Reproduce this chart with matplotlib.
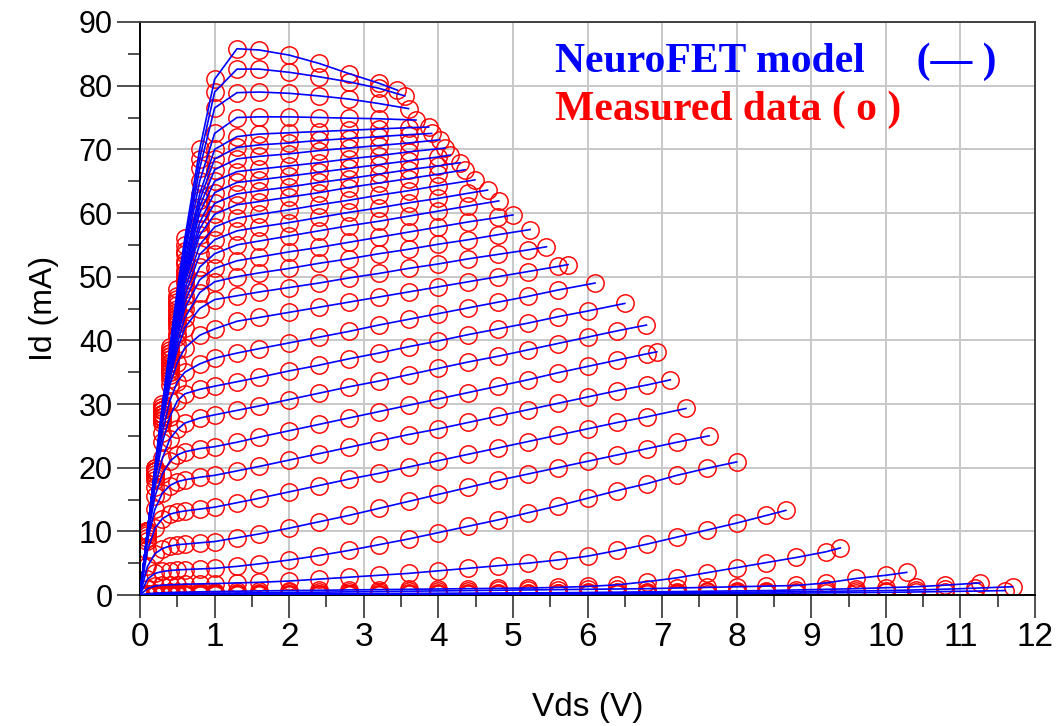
import matplotlib
matplotlib.use("Agg")
import matplotlib.pyplot as plt
from matplotlib.ticker import MultipleLocator

# ---- measurement Vds grid (V) ----
VDS_LIN = [0.0, 0.1, 0.2, 0.3, 0.4, 0.5, 0.6, 0.8, 1.0]
VDS_SAT = [1.3, 1.6, 2.0, 2.4, 2.8, 3.2, 3.6, 4.0, 4.4, 4.8, 5.2, 5.6, 6.0,
           6.4, 6.8, 7.2, 7.6, 8.0, 8.4, 8.8, 9.2, 9.6, 10.0, 10.4, 10.8, 11.2]

# ---- last Vds of each Vgs sweep (V) ----
VDS_END = [3.45, 3.55, 3.6, 3.7, 3.87, 3.91, 4.02, 4.09, 4.16, 4.29, 4.36,
           4.49, 4.66, 4.81, 5.0, 5.23, 5.45, 5.74, 6.1, 6.5, 6.79, 6.93,
           7.11, 7.32, 7.63, 8.0, 8.66, 9.39, 10.28, 11.26, 11.7, 11.6]

# ---- Id (mA) of each sweep, top curve first ----
ID_C01 = [0, 10, 20, 30, 39, 48, 56, 70, 81, 85.8, 85.6, 84.8, 83.5, 81.9, 80.4, 79.3]
ID_C02 = [0, 10, 20, 29.5, 38.5, 47, 55, 68.5, 79, 82.6, 82.6, 82.1, 81.4, 80.6, 79.6, 78.4]
ID_C03 = [0, 10, 19.5, 29, 38, 46.5, 54, 67, 76.5, 78.9, 79.0, 78.8, 78.4, 77.9, 77.2, 76.4]
ID_C04 = [0, 10, 19.5, 29, 38, 46, 53.5, 65, 72.5, 75.0, 75.1, 75.1, 75.0, 74.9, 74.8, 74.6]
ID_C05 = [0, 10, 19.5, 29, 37.5, 45.5, 52.5, 63, 70, 72.0, 72.4, 72.6, 72.8, 73.0, 73.2, 73.4, 73.5]
ID_C06 = [0, 10, 19.5, 29, 37.5, 45, 52, 62, 68.5, 70.3, 70.7, 71.0, 71.4, 71.7, 72.0, 72.3, 72.5]
ID_C07 = [0, 10, 19.5, 28.5, 37, 44.5, 51, 61, 66.8, 68.5, 68.9, 69.3, 69.8, 70.2, 70.6, 71.0, 71.5]
ID_C08 = [0, 10, 19.5, 28.5, 37, 44, 50.5, 60, 65, 66.5, 66.9, 67.4, 67.9, 68.5, 69.0, 69.6, 70.2]
ID_C09 = [0, 10, 19.5, 28.5, 36.5, 43.5, 50, 58.5, 63.2, 64.8, 65.2, 65.8, 66.4, 67.0, 67.6, 68.2, 68.8, 69.1]
ID_C10 = [0, 10, 19.5, 28.5, 36.5, 43.5, 49.5, 57.5, 61.5, 63.0, 63.5, 64.1, 64.8, 65.4, 66.1, 66.8, 67.4, 67.9]
ID_C11 = [0, 10, 19.5, 28.5, 36, 43, 49, 56.5, 59.8, 61.3, 61.8, 62.5, 63.2, 64.0, 64.7, 65.4, 66.1, 66.8]
ID_C12 = [0, 10, 19.5, 28, 35.5, 42.5, 48, 55, 57.8, 59.2, 59.8, 60.5, 61.3, 62.0, 62.8, 63.5, 64.3, 65.2]
ID_C13 = [0, 10, 19.5, 28, 35.5, 42, 47, 53.5, 55.8, 57.2, 57.8, 58.5, 59.3, 60.1, 60.8, 61.6, 62.3, 63.1, 63.6]
ID_C14 = [0, 10, 19.5, 28, 35, 41, 46, 51.5, 53.6, 55.0, 55.6, 56.4, 57.2, 58.0, 58.7, 59.5, 60.3, 61.1, 61.9]
ID_C15 = [0, 10, 19.5, 28, 35, 40.5, 45, 49.5, 51.3, 52.5, 53.1, 53.9, 54.6, 55.4, 56.2, 57.0, 57.8, 58.6, 59.3, 59.7]
ID_C16 = [0, 10, 19.5, 27.5, 34.5, 39.5, 43.5, 47.5, 49.2, 50.0, 50.6, 51.3, 52.1, 52.8, 53.6, 54.3, 55.1, 55.8, 56.6, 57.4]
ID_C17 = [0, 10, 19.5, 27.5, 34, 38.5, 42, 45, 46.4, 47.0, 47.6, 48.3, 49.0, 49.8, 50.5, 51.3, 52.0, 52.8, 53.5, 54.2, 54.7]
ID_C18 = [0, 10, 19, 27, 33, 36.5, 38.8, 40.8, 41.8, 43.0, 43.6, 44.4, 45.2, 46.0, 46.8, 47.6, 48.4, 49.2, 50.0, 50.8, 51.6, 51.9]
ID_C19 = [0, 10, 18.5, 25.5, 30.5, 33.5, 35, 36.3, 37.2, 38.0, 38.7, 39.6, 40.5, 41.4, 42.4, 43.3, 44.2, 45.1, 46.0, 46.9, 47.9, 49.0]
ID_C20 = [0, 9.8, 18, 24, 28, 30.5, 31.6, 32.3, 32.8, 33.5, 34.2, 35.2, 36.1, 37.1, 38.0, 39.0, 39.9, 40.9, 41.8, 42.7, 43.7, 44.6, 45.8]
ID_C21 = [0, 9.5, 17, 21.5, 24.5, 26, 27, 27.8, 28.3, 29.0, 29.7, 30.7, 31.7, 32.7, 33.6, 34.6, 35.6, 36.6, 37.5, 38.5, 39.5, 40.5, 41.5, 42.4]
ID_C22 = [0, 9, 15.5, 19, 21, 22, 22.5, 23, 23.3, 24.0, 24.8, 25.8, 26.8, 27.8, 28.8, 29.8, 30.8, 31.8, 32.8, 33.8, 34.9, 35.9, 36.9, 37.9, 38.2]
ID_C23 = [0, 8.5, 13.5, 16, 17.2, 17.8, 18.1, 18.5, 18.8, 19.5, 20.2, 21.2, 22.2, 23.2, 24.2, 25.2, 26.1, 27.1, 28.1, 29.1, 30.1, 31.1, 32.1, 33.0, 33.8]
ID_C24 = [0, 7, 10.5, 12, 12.7, 13, 13.2, 13.5, 13.8, 14.5, 15.2, 16.2, 17.2, 18.2, 19.1, 20.1, 21.1, 22.1, 23.1, 24.1, 25.1, 26.1, 27.1, 28.0, 29.3]
ID_C25 = [0, 4.5, 6.5, 7.3, 7.7, 7.9, 8.0, 8.2, 8.4, 9.0, 9.6, 10.5, 11.5, 12.5, 13.6, 14.7, 15.8, 16.9, 18.0, 19.0, 20.0, 21.0, 22.0, 23.0, 24.0, 25.0]
ID_C26 = [0, 2.5, 3.4, 3.7, 3.85, 3.95, 4.0, 4.1, 4.2, 4.5, 4.9, 5.5, 6.2, 7.0, 7.9, 8.8, 9.8, 10.8, 11.8, 12.9, 14.0, 15.2, 16.4, 17.5, 18.8, 19.9, 20.9]
ID_C27 = [0, 1.0, 1.4, 1.55, 1.6, 1.65, 1.7, 1.75, 1.8, 1.9, 2.0, 2.2, 2.5, 2.8, 3.1, 3.4, 3.8, 4.2, 4.6, 5.0, 5.5, 6.1, 7.0, 8.0, 9.1, 10.2, 11.3, 12.5, 13.3]
ID_C28 = [0, 0.2, 0.3, 0.35, 0.4, 0.42, 0.45, 0.5, 0.55, 0.6, 0.65, 0.7, 0.75, 0.8, 0.85, 0.9, 0.95, 1.0, 1.05, 1.1, 1.2,
          1.35, 1.6, 2.1, 2.7, 3.5, 4.3, 5.1, 5.9, 6.8, 7.4]
ID_C29 = [0, 0.1, 0.15, 0.2, 0.2, 0.22, 0.24, 0.27, 0.3, 0.32, 0.35, 0.4, 0.45, 0.5, 0.55, 0.6, 0.65, 0.7, 0.75, 0.8, 0.85,
          0.9, 0.95, 1.0, 1.1, 1.2, 1.3, 1.4, 1.5, 1.9, 2.6, 3.1, 3.56]
ID_C30 = [0, 0.05, 0.08, 0.1, 0.1, 0.11, 0.12, 0.13, 0.14, 0.15, 0.16, 0.18, 0.2, 0.22, 0.24, 0.26, 0.28, 0.3, 0.32, 0.34,
          0.36, 0.4, 0.45, 0.5, 0.55, 0.6, 0.65, 0.7, 0.8, 0.9, 1.0, 1.15, 1.3, 1.55, 1.9]
ID_C31 = [0, 0.03, 0.05, 0.06, 0.07, 0.07, 0.08, 0.08, 0.09, 0.1, 0.1, 0.11, 0.12, 0.13, 0.14, 0.15, 0.17, 0.19, 0.21, 0.23,
          0.25, 0.28, 0.31, 0.34, 0.37, 0.4, 0.44, 0.48, 0.53, 0.58, 0.64, 0.7, 0.8, 0.92, 1.08, 1.3]
ID_C32 = [0, 0.02, 0.03, 0.04, 0.04, 0.05, 0.05, 0.05, 0.06, 0.06, 0.06, 0.07, 0.07, 0.08, 0.08, 0.09, 0.1, 0.11, 0.12, 0.13,
          0.14, 0.15, 0.17, 0.19, 0.21, 0.23, 0.25, 0.28, 0.31, 0.34, 0.38, 0.42, 0.48, 0.55, 0.62, 0.7]

X_TICKS = list(range(0, 13))
Y_TICKS = list(range(0, 91, 10))
LEGEND_MODEL = "NeuroFET model     (\u2014 )"
LEGEND_DATA = "Measured data ( o )"

CURVES = [ID_C01, ID_C02, ID_C03, ID_C04, ID_C05, ID_C06, ID_C07, ID_C08,
          ID_C09, ID_C10, ID_C11, ID_C12, ID_C13, ID_C14, ID_C15, ID_C16,
          ID_C17, ID_C18, ID_C19, ID_C20, ID_C21, ID_C22, ID_C23, ID_C24,
          ID_C25, ID_C26, ID_C27, ID_C28, ID_C29, ID_C30, ID_C31, ID_C32]

SANS = ["Liberation Sans", "DejaVu Sans"]
NARROW = ["Liberation Sans Narrow", "Liberation Sans", "DejaVu Sans"]

fig = plt.figure(figsize=(10.6, 7.26), dpi=100)
ax = fig.add_axes([0.1321, 0.1804, 0.8443, 0.7893])

grid = VDS_LIN + VDS_SAT
for ids, vend in zip(CURVES, VDS_END):
    xs = [v for v in grid if v < vend - 0.125] + [vend]
    if len(xs) != len(ids):
        n = min(len(xs), len(ids))
        xs, ids = xs[:n - 1] + [vend], ids[:n]
    ax.plot(xs, ids, linestyle="none", marker="o", ms=12.5, mfc="none",
            mec="#ff0000", mew=1.05, zorder=2)
    ax.plot(xs, ids, color="#0000ff", lw=1.2, zorder=3)

ax.set_xlim(0, 12)
ax.set_ylim(0, 90)
ax.set_xticks(X_TICKS)
ax.set_yticks(Y_TICKS)
ax.xaxis.set_minor_locator(MultipleLocator(0.5))
ax.yaxis.set_minor_locator(MultipleLocator(5))
ax.grid(True, which="major", color="#c8c8c8", lw=1.4)
ax.set_axisbelow(True)

ax.tick_params(which="major", length=16.5, width=1.1, direction="out",
               color="#202020", pad=3)
ax.tick_params(which="minor", length=8.5, width=1.1, direction="out",
               color="#202020")
for lab in ax.get_yticklabels():
    lab.set_fontfamily(SANS)
    lab.set_fontsize(22)
for lab in ax.get_xticklabels():
    lab.set_fontfamily(NARROW)
    lab.set_fontsize(24)

for side in ["left", "bottom"]:
    ax.spines[side].set_color("#000000")
    ax.spines[side].set_linewidth(1.4)
for side in ["top", "right"]:
    ax.spines[side].set_color("#404040")
    ax.spines[side].set_linewidth(1.4)

ax.set_xlabel("Vds (V)", fontsize=24, family=NARROW, labelpad=28)
ax.set_ylabel("Id (mA)", fontsize=23, family=SANS, labelpad=14)

ax.text(0.464, 0.930, LEGEND_MODEL, transform=ax.transAxes, color="#0000ff",
        fontsize=30, fontweight="bold", family="Liberation Serif",
        ha="left", va="center", zorder=5)
ax.text(0.464, 0.846, LEGEND_DATA, transform=ax.transAxes, color="#ff0000",
        fontsize=30, fontweight="bold", family="Liberation Serif",
        ha="left", va="center", zorder=5)

fig.savefig("out.png", dpi=100)
